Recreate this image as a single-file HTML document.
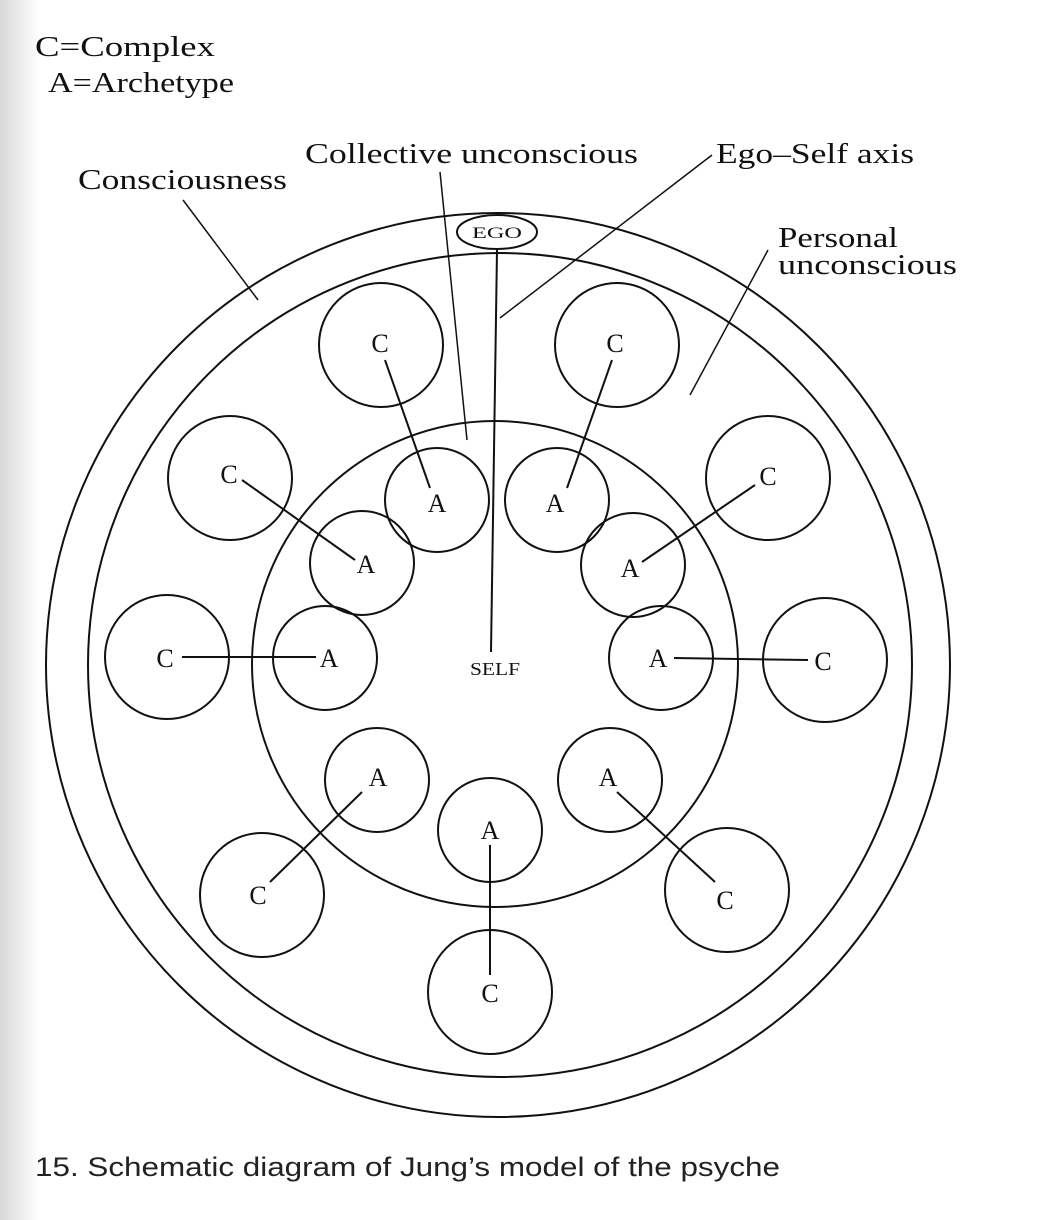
<!DOCTYPE html>
<html><head><meta charset="utf-8"><style>
html,body{margin:0;padding:0;background:#fff;}
body{width:1039px;height:1220px;overflow:hidden;position:relative;}
.strip{position:absolute;left:0;top:0;width:40px;height:1220px;background:linear-gradient(to right,#d8d8d8,#f4f4f4 70%,#fff);}
</style></head><body>
<div class="strip"></div>
<svg width="1039" height="1220" style="position:absolute;left:0;top:0" xmlns="http://www.w3.org/2000/svg">
<g fill="none" stroke="#111" stroke-width="2">
<circle cx="498" cy="665" r="452"/>
<circle cx="500" cy="665" r="412"/>
<circle cx="495" cy="664" r="243"/>
<ellipse cx="497" cy="232" rx="40" ry="17"/>
<circle cx="437" cy="500" r="52"/>
<circle cx="557" cy="500" r="52"/>
<circle cx="362" cy="563" r="52"/>
<circle cx="633" cy="565" r="52"/>
<circle cx="325" cy="658" r="52"/>
<circle cx="661" cy="658" r="52"/>
<circle cx="377" cy="780" r="52"/>
<circle cx="610" cy="780" r="52"/>
<circle cx="490" cy="830" r="52"/>
<circle cx="381" cy="345" r="62"/>
<circle cx="617" cy="345" r="62"/>
<circle cx="230" cy="478" r="62"/>
<circle cx="768" cy="478" r="62"/>
<circle cx="167" cy="657" r="62"/>
<circle cx="825" cy="660" r="62"/>
<circle cx="262" cy="895" r="62"/>
<circle cx="727" cy="890" r="62"/>
<circle cx="490" cy="992" r="62"/>
<line x1="497" y1="250" x2="491" y2="652"/>
<line x1="440" y1="172" x2="467" y2="440" stroke-width="1.5"/>
<line x1="712" y1="155" x2="500" y2="318" stroke-width="1.5"/>
<line x1="183" y1="200" x2="258" y2="300" stroke-width="1.5"/>
<line x1="768" y1="250" x2="690" y2="395" stroke-width="1.5"/>
<line x1="385" y1="360" x2="430" y2="488"/>
<line x1="612" y1="360" x2="567" y2="488"/>
<line x1="242" y1="480" x2="355" y2="560"/>
<line x1="755" y1="485" x2="642" y2="562"/>
<line x1="182" y1="657" x2="316" y2="657"/>
<line x1="674" y1="658" x2="808" y2="660"/>
<line x1="362" y1="792" x2="270" y2="882"/>
<line x1="617" y1="792" x2="715" y2="882"/>
<line x1="490" y1="845" x2="490" y2="975"/>
</g>
<g font-family="Liberation Serif, serif" fill="#111" font-size="26" text-anchor="middle">
<text x="437" y="512">A</text>
<text x="555" y="512">A</text>
<text x="366" y="573">A</text>
<text x="630" y="577">A</text>
<text x="329" y="667">A</text>
<text x="658" y="667">A</text>
<text x="378" y="786">A</text>
<text x="608" y="786">A</text>
<text x="490" y="839">A</text>
<text x="380" y="352">C</text>
<text x="615" y="352">C</text>
<text x="229" y="483">C</text>
<text x="768" y="485">C</text>
<text x="165" y="667">C</text>
<text x="823" y="670">C</text>
<text x="258" y="904">C</text>
<text x="725" y="909">C</text>
<text x="490" y="1002">C</text>
</g>
<g font-family="Liberation Serif, serif" fill="#111">
<text x="472" y="238" font-size="16" textLength="50" lengthAdjust="spacingAndGlyphs">EGO</text>
<text x="470" y="675" font-size="18" textLength="50" lengthAdjust="spacingAndGlyphs">SELF</text>
</g>
<g font-family="Liberation Serif, serif" fill="#111" font-size="28">
<text x="35" y="56" textLength="180" lengthAdjust="spacingAndGlyphs">C=Complex</text>
<text x="48" y="92" textLength="186" lengthAdjust="spacingAndGlyphs">A=Archetype</text>
<text x="305" y="163" textLength="333" lengthAdjust="spacingAndGlyphs">Collective unconscious</text>
<text x="78" y="189" textLength="209" lengthAdjust="spacingAndGlyphs">Consciousness</text>
<text x="716" y="163" textLength="198" lengthAdjust="spacingAndGlyphs">Ego–Self axis</text>
<text x="778" y="247" textLength="120" lengthAdjust="spacingAndGlyphs">Personal</text>
<text x="778" y="274" textLength="179" lengthAdjust="spacingAndGlyphs">unconscious</text>
</g>
<text x="35" y="1176" font-family="Liberation Sans, sans-serif" font-size="27" fill="#222" textLength="745" lengthAdjust="spacingAndGlyphs">15. Schematic diagram of Jung’s model of the psyche</text>
</svg>
</body></html>
